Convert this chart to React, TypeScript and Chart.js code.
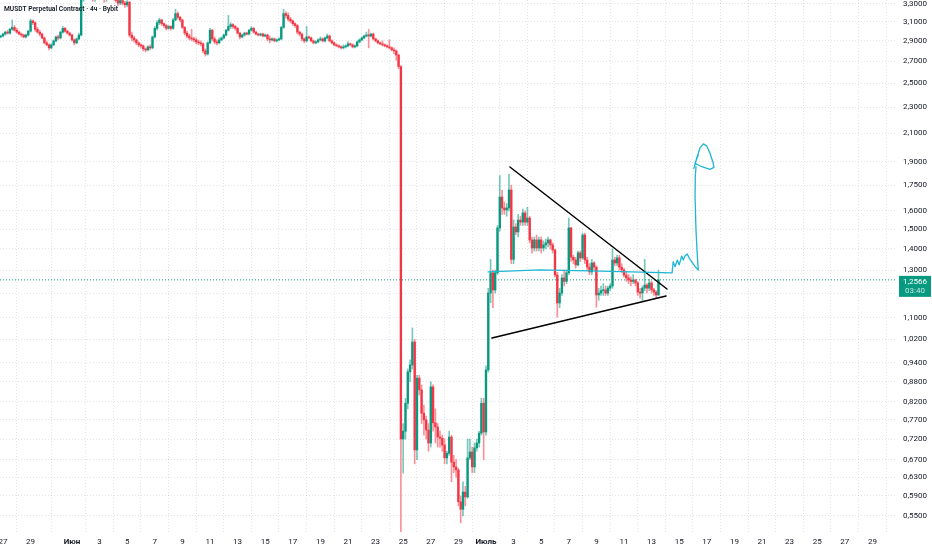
import { useEffect, useRef } from 'react'
import { Chart, registerables } from 'chart.js'

Chart.register(...registerables)

// 4h candles. x = candle number counted from 27 May 00:00, first candle is number -1.
// One row = 12 candles = 2 days. Each open is the previous close.
const firstCandle = -1
const firstOpen = 2.94

const closes = [
  2.95, 2.97, 2.99, 2.98, 3.02, 3.04, 3.01, 2.99, 2.97, 2.96, 2.94, 2.96,
  3.0, 3.11, 3.09, 3.02, 2.99, 2.97, 2.93, 2.88, 2.86, 2.83, 2.86, 2.9,
  2.94, 2.93, 2.99, 3.03, 3.0, 2.98, 2.96, 2.91, 2.88, 2.92, 2.96, 3.36,
  3.4, 3.38, 3.42, 3.39, 3.36, 3.4, 3.44, 3.41, 3.38, 3.35, 3.39, 3.42,
  3.4, 3.37, 3.34, 3.31, 3.34, 3.31, 3.29, 3.32, 2.96, 2.93, 2.91, 2.88,
  2.86, 2.85, 2.82, 2.81, 2.84, 2.83, 2.94, 3.03, 3.09, 3.12, 3.08, 3.06,
  3.03, 3.05, 3.03, 3.12, 3.19, 3.15, 3.12, 3.04, 2.98, 2.95, 2.93, 2.92,
  2.91, 2.89, 2.88, 2.87, 2.8, 2.77, 2.88, 3.01, 2.92, 2.89, 2.88, 2.91,
  2.93, 2.96, 3.01, 3.05, 3.07, 3.05, 3.03, 2.98, 2.94, 2.96, 2.98, 2.97,
  3.01, 3.03, 2.99, 2.97, 2.96, 2.97, 2.95, 2.96, 2.92, 2.91, 2.92, 2.9,
  2.91, 2.92, 3.04, 3.19, 3.17, 3.13, 3.11, 3.08, 3.06, 2.99, 2.97, 2.92,
  2.9, 2.94, 2.93, 2.9, 2.88, 2.89, 2.91, 2.92, 2.9, 2.93, 2.95, 2.9,
  2.88, 2.86, 2.85, 2.84, 2.83, 2.84, 2.85, 2.87, 2.86, 2.84, 2.85, 2.89,
  2.91, 2.93, 2.95, 2.96, 2.95, 2.97, 2.92, 2.9, 2.88, 2.87, 2.86, 2.85,
  2.84, 2.83, 2.81, 2.8, 2.76, 2.65, 0.72, 0.74, 0.816, 0.911, 0.933, 1.011,
  0.693, 0.891, 0.855, 0.788, 0.77, 0.743, 0.71, 0.864, 0.762, 0.751, 0.725, 0.722,
  0.705, 0.674, 0.685, 0.725, 0.664, 0.653, 0.646, 0.578, 0.563, 0.598, 0.588, 0.674,
  0.688, 0.653, 0.698, 0.71, 0.735, 0.816, 0.738, 0.917, 1.2, 1.288, 1.213, 1.288,
  1.507, 1.679, 1.616, 1.605, 1.616, 1.721, 1.35, 1.512, 1.486, 1.549, 1.538, 1.588,
  1.538, 1.56, 1.445, 1.405, 1.445, 1.405, 1.445, 1.405, 1.42, 1.43, 1.445, 1.42,
  1.395, 1.278, 1.159, 1.2, 1.265, 1.25, 1.288, 1.507, 1.36, 1.347, 1.324, 1.381,
  1.357, 1.47, 1.347, 1.314, 1.292, 1.333, 1.314, 1.192, 1.2, 1.21, 1.213, 1.2,
  1.221, 1.23, 1.347, 1.333, 1.357, 1.314, 1.301, 1.278, 1.265, 1.256, 1.25, 1.256,
  1.243, 1.204, 1.2, 1.221, 1.234, 1.221, 1.243, 1.213, 1.204, 1.192, 1.2566,
]

const highs = [
  2.96, 2.98, 3.0, 3.01, 3.03, 3.12, 3.06, 3.03, 3.0, 2.98, 2.97, 2.97,
  3.01, 3.13, 3.12, 3.1, 3.04, 3.01, 2.98, 2.94, 2.9, 2.87, 2.87, 2.91,
  2.95, 2.96, 3.0, 3.05, 3.04, 3.01, 2.99, 2.97, 2.92, 2.93, 2.98, 3.4,
  3.44, 3.43, 3.46, 3.44, 3.41, 3.43, 3.48, 3.46, 3.43, 3.4, 3.42, 3.45,
  3.44, 3.42, 3.39, 3.36, 3.36, 3.36, 3.33, 3.34, 3.33, 2.99, 2.95, 2.92,
  2.89, 2.87, 2.86, 2.83, 2.85, 2.86, 2.95, 3.05, 3.11, 3.14, 3.13, 3.09,
  3.07, 3.06, 3.06, 3.14, 3.24, 3.21, 3.16, 3.13, 3.05, 3.0, 2.97, 3.02,
  2.94, 2.93, 2.91, 2.9, 2.88, 2.82, 2.89, 3.03, 3.02, 2.94, 2.91, 2.93,
  2.94, 2.97, 3.02, 3.17, 3.09, 3.08, 3.06, 3.04, 2.99, 2.97, 2.99, 2.99,
  3.02, 3.05, 3.04, 3.0, 2.98, 2.98, 2.98, 2.97, 2.97, 2.95, 2.93, 2.93,
  2.92, 2.93, 3.05, 3.24, 3.21, 3.2, 3.15, 3.12, 3.09, 3.07, 3.0, 2.98,
  2.93, 3.05, 2.95, 2.94, 2.91, 2.9, 2.92, 2.94, 2.93, 2.94, 2.97, 2.96,
  2.91, 2.89, 2.87, 2.86, 2.85, 2.86, 2.86, 2.89, 2.88, 2.87, 2.86, 2.9,
  2.92, 2.94, 2.96, 2.99, 3.02, 2.98, 2.98, 2.93, 2.91, 2.89, 2.9, 2.87,
  2.86, 2.91, 2.84, 2.83, 2.81, 2.77, 2.66, 0.76, 0.83, 0.92, 0.95, 1.062,
  1.02, 0.9, 0.9, 0.87, 0.81, 0.78, 0.76, 0.88, 0.87, 0.8, 0.76, 0.74,
  0.73, 0.72, 0.69, 0.74, 0.73, 0.68, 0.67, 0.65, 0.59, 0.62, 0.61, 0.72,
  0.72, 0.7, 0.71, 0.72, 0.74, 0.83, 0.83, 0.93, 1.22, 1.35, 1.3, 1.3,
  1.52, 1.81, 1.72, 1.65, 1.64, 1.82, 1.75, 1.55, 1.53, 1.58, 1.57, 1.61,
  1.6, 1.62, 1.57, 1.46, 1.46, 1.47, 1.46, 1.46, 1.44, 1.45, 1.46, 1.45,
  1.43, 1.4, 1.29, 1.22, 1.28, 1.3, 1.3, 1.56, 1.51, 1.37, 1.36, 1.39,
  1.39, 1.48, 1.48, 1.36, 1.33, 1.35, 1.34, 1.32, 1.22, 1.23, 1.24, 1.23,
  1.23, 1.24, 1.4, 1.36, 1.37, 1.37, 1.33, 1.31, 1.29, 1.28, 1.27, 1.28,
  1.26, 1.25, 1.22, 1.23, 1.35, 1.24, 1.26, 1.25, 1.22, 1.21, 1.3,
]

const lows = [
  2.93, 2.94, 2.96, 2.97, 2.97, 3.01, 3.0, 2.98, 2.96, 2.94, 2.93, 2.93,
  2.95, 2.99, 3.07, 3.0, 2.98, 2.95, 2.92, 2.87, 2.85, 2.81, 2.82, 2.85,
  2.89, 2.91, 2.92, 2.98, 2.99, 2.97, 2.95, 2.9, 2.86, 2.87, 2.91, 2.95,
  3.33, 3.36, 3.36, 3.37, 3.33, 3.33, 3.38, 3.39, 3.36, 3.32, 3.33, 3.37,
  3.38, 3.35, 3.32, 3.28, 3.29, 3.29, 3.26, 3.27, 2.94, 2.9, 2.89, 2.86,
  2.84, 2.83, 2.8, 2.79, 2.8, 2.81, 2.82, 2.93, 3.01, 3.07, 3.06, 3.04,
  3.01, 3.02, 3.01, 3.02, 3.11, 3.13, 3.1, 3.03, 2.96, 2.93, 2.91, 2.9,
  2.89, 2.87, 2.86, 2.85, 2.78, 2.75, 2.76, 2.87, 2.9, 2.87, 2.86, 2.87,
  2.9, 2.92, 2.95, 3.0, 3.03, 3.03, 3.01, 2.97, 2.92, 2.93, 2.95, 2.96,
  2.96, 3.0, 2.98, 2.96, 2.95, 2.95, 2.94, 2.94, 2.9, 2.88, 2.9, 2.89,
  2.89, 2.9, 2.91, 3.03, 3.14, 3.11, 3.09, 3.06, 3.04, 2.97, 2.95, 2.9,
  2.88, 2.89, 2.92, 2.89, 2.87, 2.87, 2.88, 2.9, 2.89, 2.89, 2.92, 2.89,
  2.87, 2.85, 2.84, 2.83, 2.82, 2.82, 2.83, 2.84, 2.85, 2.83, 2.83, 2.84,
  2.88, 2.9, 2.92, 2.94, 2.83, 2.94, 2.91, 2.89, 2.87, 2.86, 2.85, 2.84,
  2.83, 2.82, 2.8, 2.77, 2.71, 2.63, 0.518, 0.639, 0.72, 0.8, 0.88, 0.92,
  0.66, 0.67, 0.84, 0.76, 0.73, 0.72, 0.69, 0.7, 0.74, 0.71, 0.7, 0.7,
  0.69, 0.66, 0.66, 0.68, 0.62, 0.64, 0.63, 0.57, 0.537, 0.55, 0.57, 0.585,
  0.67, 0.64, 0.64, 0.69, 0.7, 0.73, 0.67, 0.73, 0.91, 1.16, 1.14, 1.2,
  1.28, 1.49, 1.58, 1.58, 1.57, 1.6, 1.33, 1.33, 1.47, 1.46, 1.52, 1.52,
  1.52, 1.52, 1.43, 1.38, 1.39, 1.39, 1.39, 1.38, 1.39, 1.4, 1.41, 1.4,
  1.38, 1.27, 1.103, 1.14, 1.19, 1.23, 1.24, 1.28, 1.34, 1.33, 1.31, 1.32,
  1.34, 1.35, 1.33, 1.3, 1.28, 1.28, 1.3, 1.142, 1.17, 1.19, 1.19, 1.19,
  1.19, 1.21, 1.22, 1.32, 1.32, 1.3, 1.29, 1.27, 1.25, 1.24, 1.23, 1.24,
  1.23, 1.19, 1.18, 1.17, 1.21, 1.2, 1.21, 1.2, 1.19, 1.18, 1.19,
]

// date ticks: days after 27 May, and their labels
const tickDays = [0, 2, 5, 7, 9, 11, 13, 15, 17, 19, 21, 23, 25, 27, 29, 31, 33, 35, 37, 39, 41, 43, 45, 47, 49, 51, 53, 55, 57, 59, 61, 63]
const tickLabels = ['27', '29', 'Июн', '3', '5', '7', '9', '11', '13', '15', '17', '19', '21', '23', '25', '27', '29', 'Июль', '3', '5', '7', '9', '11', '13', '15', '17', '19', '21', '23', '25', '27', '29']
const monthLabels = ['Июн', 'Июль']

const priceTicks = [0.55, 0.59, 0.63, 0.67, 0.72, 0.77, 0.82, 0.88, 0.94, 1.02, 1.1, 1.2, 1.3, 1.4, 1.5, 1.6, 1.75, 1.9, 2.1, 2.3, 2.5, 2.7, 2.9, 3.1, 3.3]

const lastPrice = 1.2566
const countdown = '03:40'
const title = 'MUSDT Perpetual Contract · 4ч · Bybit'

// drawings, as [candle number, price]
const upperTrend = [[220.4, 1.865], [288.7, 1.217]]
const lowerTrend = [[212.6, 1.025], [288.3, 1.188]]
const forecastPath = [
  [210.9, 1.292], [233.5, 1.301], [259.6, 1.296], [290.9, 1.288],
  [291.4, 1.339], [292.2, 1.316], [293.2, 1.347], [294.0, 1.324], [295.1, 1.366],
  [295.8, 1.347], [296.5, 1.366], [297.5, 1.376], [298.4, 1.355], [299.4, 1.339],
  [300.9, 1.316], [302.3, 1.301], [301.9, 1.363], [301.3, 1.496], [300.9, 1.681],
  [301.0, 1.803], [301.3, 1.867],
]
const forecastArrow = [
  [300.4, 1.857], [301.6, 1.923], [303.0, 1.992], [304.5, 2.022], [306.0, 2.008],
  [307.4, 1.957], [308.8, 1.89], [309.1, 1.863], [307.4, 1.85], [303.8, 1.867],
  [300.9, 1.89], [302.3, 1.945],
]

const GREEN = '#089981'
const RED = '#F23645'
const FONT = 'Roboto'

const opens = closes.map((_, k) => (k === 0 ? firstOpen : closes[k - 1]))
const rising = closes.map((c, k) => c >= opens[k])
const xs = closes.map((_, k) => firstCandle + k)

const overlay = {
  id: 'overlay',
  beforeDatasetsDraw(chart: any) {
    const { ctx, chartArea, scales } = chart
    const py = scales.y.getPixelForValue(lastPrice)
    ctx.save()
    ctx.strokeStyle = GREEN
    ctx.lineWidth = 1
    ctx.setLineDash([1, 2])
    ctx.beginPath()
    ctx.moveTo(chartArea.left, py)
    ctx.lineTo(chartArea.right, py)
    ctx.stroke()
    ctx.restore()
  },
  afterDatasetsDraw(chart: any) {
    const { ctx, chartArea, scales } = chart
    const { x, y } = scales
    ctx.save()
    ctx.beginPath()
    ctx.rect(chartArea.left, chartArea.top, chartArea.width, chartArea.height)
    ctx.clip()
    const path = (pts: number[][], color: string, width: number) => {
      ctx.strokeStyle = color
      ctx.lineWidth = width
      ctx.lineJoin = 'round'
      ctx.lineCap = 'round'
      ctx.beginPath()
      pts.forEach(([i, p], k) => {
        const px = x.getPixelForValue(i)
        const py = y.getPixelForValue(p)
        if (k === 0) ctx.moveTo(px, py)
        else ctx.lineTo(px, py)
      })
      ctx.stroke()
    }
    path(upperTrend, '#000000', 1.5)
    path(lowerTrend, '#000000', 1.5)
    path(forecastPath, '#1fb6d2', 1.3)
    path(forecastArrow, '#1fb6d2', 1.3)

    ctx.fillStyle = '#131722'
    ctx.font = `600 6.7px ${FONT}`
    ctx.textBaseline = 'middle'
    ctx.textAlign = 'left'
    ctx.fillText(title, chartArea.left + 4, chartArea.top + 9)
    ctx.restore()
  },
  afterDraw(chart: any) {
    const { ctx, scales } = chart
    const axis = scales.y
    const py = axis.getPixelForValue(lastPrice)
    const left = axis.left + 2
    const w = axis.right - left - 1
    ctx.save()
    ctx.fillStyle = GREEN
    ctx.fillRect(left, py - 4, w, 21)
    ctx.textAlign = 'center'
    ctx.textBaseline = 'middle'
    ctx.font = `8px ${FONT}`
    ctx.fillStyle = '#ffffff'
    ctx.fillText(lastPrice.toFixed(4).replace('.', ','), left + w / 2, py + 2)
    ctx.fillStyle = 'rgba(255,255,255,0.75)'
    ctx.fillText(countdown, left + w / 2, py + 11)
    ctx.restore()
  },
}

const CandleChart = () => {
  const canvasRef = useRef<HTMLCanvasElement | null>(null)

  useEffect(() => {
    document.body.style.margin = '0'
    const ctx = canvasRef.current?.getContext('2d')
    if (!ctx) return

    const gridColor = 'rgba(42, 46, 57, 0.13)'

    const chart = new Chart(ctx, {
      type: 'bar',
      data: {
        datasets: [
          {
            label: 'body',
            data: xs.map((x, k) => ({ x, y: [opens[k], closes[k]] })) as any,
            backgroundColor: rising.map((r) => (r ? GREEN : RED)),
            barThickness: 1.7,
            minBarLength: 1,
            grouped: false,
            order: 0,
          },
          {
            label: 'wick',
            data: xs.map((x, k) => ({ x, y: [lows[k], highs[k]] })) as any,
            backgroundColor: rising.map((r) => (r ? 'rgba(8,153,129,0.55)' : 'rgba(242,54,69,0.55)')),
            barThickness: 1,
            grouped: false,
            order: 1,
          },
        ],
      },
      options: {
        responsive: true,
        maintainAspectRatio: false,
        animation: false,
        layout: { padding: 0 },
        plugins: {
          legend: { display: false },
          tooltip: { enabled: false },
        },
        scales: {
          x: {
            type: 'linear',
            min: -1.3,
            max: 388.7,
            offset: false,
            afterBuildTicks: (s: any) => {
              s.ticks = tickDays.map((d) => ({ value: d * 6 }))
            },
            afterFit: (s: any) => {
              s.height = 18
              s.paddingLeft = 0
              s.paddingRight = 0
            },
            grid: { color: gridColor, drawTicks: false },
            border: { display: false, dash: [1, 2] },
            ticks: {
              autoSkip: false,
              maxRotation: 0,
              padding: 5,
              color: '#131722',
              font: (c: any) => {
                const label = tickLabels[tickDays.indexOf(c.tick?.value / 6)]
                return { family: FONT, size: 8, weight: monthLabels.includes(label) ? 'bold' : 'normal' }
              },
              callback: (v: any) => tickLabels[tickDays.indexOf(Number(v) / 6)] ?? '',
            },
          },
          y: {
            type: 'logarithmic',
            position: 'right',
            min: 0.52,
            max: 3.346,
            afterBuildTicks: (s: any) => {
              s.ticks = priceTicks.map((v) => ({ value: v }))
            },
            afterFit: (s: any) => {
              s.width = 35
              s.paddingTop = 0
              s.paddingBottom = 0
            },
            grid: { color: gridColor, drawTicks: false },
            border: { display: false, dash: [1, 2] },
            ticks: {
              autoSkip: false,
              padding: 6,
              color: '#131722',
              font: { family: FONT, size: 8 },
              callback: (v: any) => Number(v).toFixed(4).replace('.', ','),
            },
          },
        },
      },
      plugins: [overlay],
    })

    return () => {
      chart.destroy()
    }
  }, [])

  return (
    <div style={{ position: 'relative', width: 932, height: 550, background: '#ffffff' }}>
      <canvas ref={canvasRef} />
    </div>
  )
}

export default function App() {
  return <CandleChart />
}
